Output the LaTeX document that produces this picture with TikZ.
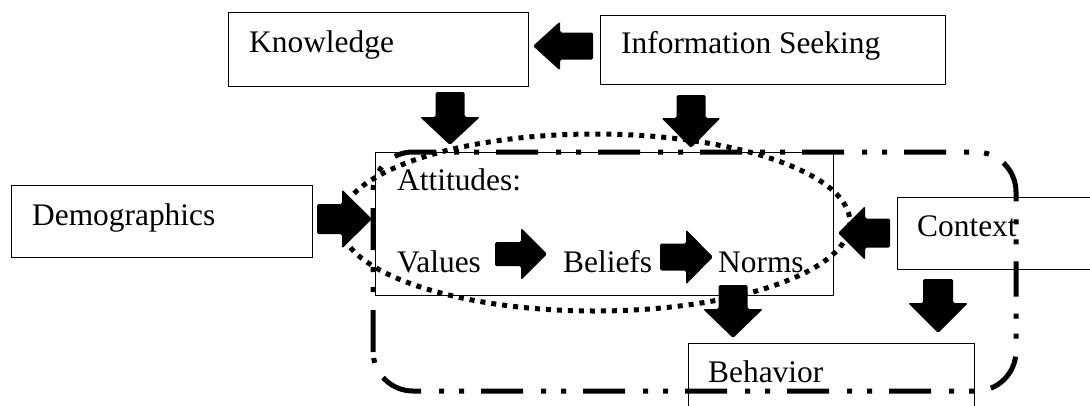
\documentclass[tikz,border=0pt]{standalone}
\usepackage{fontspec}
\setmainfont{Liberation Serif}
\newcommand\HArrow[6]{% x0, x1, x2, c, s, h
  \fill[barrow] (#1,#4-#5) -- (#2,#4-#5) -- (#2,#4-#6) -- (#3,#4) -- (#2,#4+#6) -- (#2,#4+#5) -- (#1,#4+#5) -- cycle;}
\newcommand\VArrow[6]{% y0, y1, y2, c, s, h
  \fill[barrow] (#4-#5,#1) -- (#4-#5,#2) -- (#4-#6,#2) -- (#4,#3) -- (#4+#6,#2) -- (#4+#5,#2) -- (#4+#5,#1) -- cycle;}
\tikzset{
  box/.style={draw, line width=1.3pt, inner sep=0pt, anchor=north west},
  lbl/.style={anchor=base west, inner sep=0pt, font=\fontsize{31.4}{36}\selectfont},
  barrow/.style={fill=black, rounded corners=1.5pt},
  dotring/.style={line width=5pt, dash pattern=on 5pt off 6pt},
  dashdotframe/.style={line width=5pt, dash pattern=on 42pt off 18pt on 5pt off 15pt on 5pt off 17pt, rounded corners=40pt}
}
\begin{document}
\begin{tikzpicture}[x=1pt,y=-1pt]
\useasboundingbox (0,0) rectangle (1090,405);
% boxes
\node[box, minimum width=300pt, minimum height=74pt] (know) at (228,12) {};
\node[box, minimum width=345pt, minimum height=69pt] (info) at (600,15) {};
\node[box, minimum width=301pt, minimum height=72pt] (demo) at (11,185) {};
\node[box, minimum width=458pt, minimum height=143pt] (att) at (375,152) {};
\node[box, minimum width=303pt, minimum height=72pt] (ctx) at (897,197) {};
\node[box, minimum width=286pt, minimum height=107pt] (beh) at (688,343) {};
% labels
\node[lbl] (knowT) at (249,52) {Knowledge};
\node[lbl] (infoT) at (621,53) {Information Seeking};
\node[lbl] (demoT) at (32,225) {Demographics};
\node[lbl] (attT) at (397,190) {Attitudes:};
\node[lbl] (valT) at (397,272) {Values};
\node[lbl] (belT) at (563,272) {Beliefs};
\node[lbl] (normT) at (718,272) {Norms};
\node[lbl] (ctxT) at (917,236) {Context};
\node[lbl] (behT) at (708,382) {Behavior};
% block arrows
\HArrow{593}{560}{533}{46}{13.5}{24.5}
\VArrow{92}{117}{145}{450}{14.5}{30}
\VArrow{95}{118}{148}{691}{14.5}{29.5}
\HArrow{317}{342}{372}{219}{15}{29.5}
\HArrow{495}{521}{547}{254}{12}{26}
\HArrow{660}{686}{713}{257}{13.5}{27.5}
\HArrow{890}{865}{838}{233}{14.5}{27}
\VArrow{285}{309}{338}{733}{14.5}{30}
\VArrow{279}{303}{333}{938}{15}{30}
% dash-dot rounded frame (two halves so that the dash rhythm matches)
\draw[dashdotframe] (373,352) -- (373,152) -- (1016,152) -- (1016,282);
\draw[dashdotframe, dash phase=67pt] (373,345) -- (373,391) -- (1016,391) -- (1016,282);
% dotted ellipse
\draw[dotring] (595,222.5) ellipse [x radius=255, y radius=88.5];
\end{tikzpicture}
\end{document}
